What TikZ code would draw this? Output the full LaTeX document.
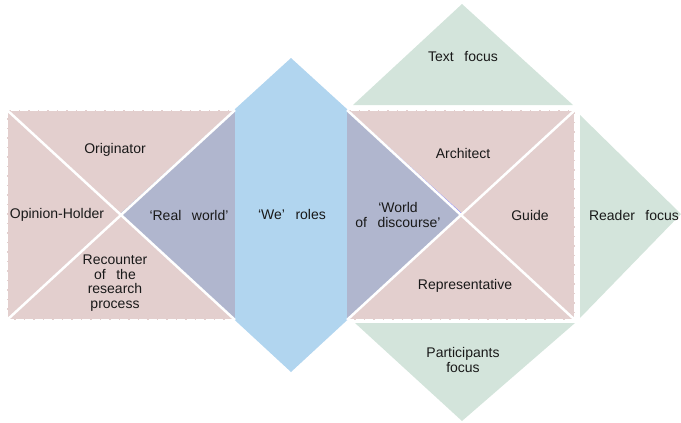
\documentclass[tikz,border=0pt]{standalone}
\usepackage{fontspec}
\setmainfont{Liberation Sans}
\usepackage{xcolor}
\usetikzlibrary{positioning}

\definecolor{rolepink}{HTML}{E3CFCE}
\definecolor{overlapblue}{HTML}{B0B6CE}
\definecolor{weblue}{HTML}{B1D5EF}
\definecolor{focusgreen}{HTML}{D3E4DB}

\tikzset{
  rolebox/.style={fill=rolepink,draw=white,dash pattern=on 8pt off 1.5pt,line width=1.5pt},
  focustri/.style={fill=focusgreen,draw=none},
  cutline/.style={draw=white,line width=2.5pt},
  rolelabel/.style={align=center,text=black!90,
    font={\fontsize{14}{14.5}\selectfont\spaceskip=0.75em}}
}

\begin{document}
\begin{tikzpicture}[x=1pt,y=-1pt]
\useasboundingbox (0,0) rectangle (681,423);
% the three focus triangles
\fill[focustri] (353,105) -- (462,4) -- (573,105) -- cycle;
\fill[focustri] (355,323) -- (575,323) -- (462,421) -- cycle;
\fill[focustri] (580,115) -- (681,214) -- (580,318) -- cycle;
% role rectangles on both sides
\filldraw[rolebox] (7,110) rectangle (235,320);
\filldraw[rolebox] (347,110) rectangle (575,320);
% the 'we' diamond, darker where it covers the rectangles
\fill[weblue] (291,58) -- (462,214) -- (291,372) -- (120,214) -- cycle;
\begin{scope}
  \clip (291,58) -- (462,214) -- (291,372) -- (120,214) -- cycle;
  \fill[overlapblue] (7,110) rectangle (235,320);
  \fill[overlapblue] (347,110) rectangle (575,320);
\end{scope}
\draw[blue!45,line width=0.8pt] (347,110) -- (462,214) -- (347,320);
% white diagonals cutting the rectangles
\foreach \xa/\xb in {7/235,347/575}
  {\draw[cutline] (\xa,110) -- (\xb,320);
   \draw[cutline] (\xa,320) -- (\xb,110);}
% labels
\node[rolelabel] (orig) at (115,150) {Originator};
\node[rolelabel] (opin) at (57,215) {Opinion-Holder};
\node[rolelabel] (reco) at (115,283) {Recounter\\of the\\research\\process};
\node[rolelabel] (real) at (189,215) {‘Real world’};
\node[rolelabel] (we) at (292,214) {‘We’ roles};
\node[rolelabel] (disc) at (398,215) {‘World\\of discourse’};
\node[rolelabel] (arch) at (463,153) {Architect};
\node[rolelabel] (guide) at (530,215) {Guide};
\node[rolelabel] (repr) at (465,286) {Representative};
\node[rolelabel] (text) at (463,57) {Text focus};
\node[rolelabel] (part) at (463,360) {Participants\\focus};
\node[rolelabel] (read) at (634,215) {Reader focus};
\end{tikzpicture}
\end{document}
